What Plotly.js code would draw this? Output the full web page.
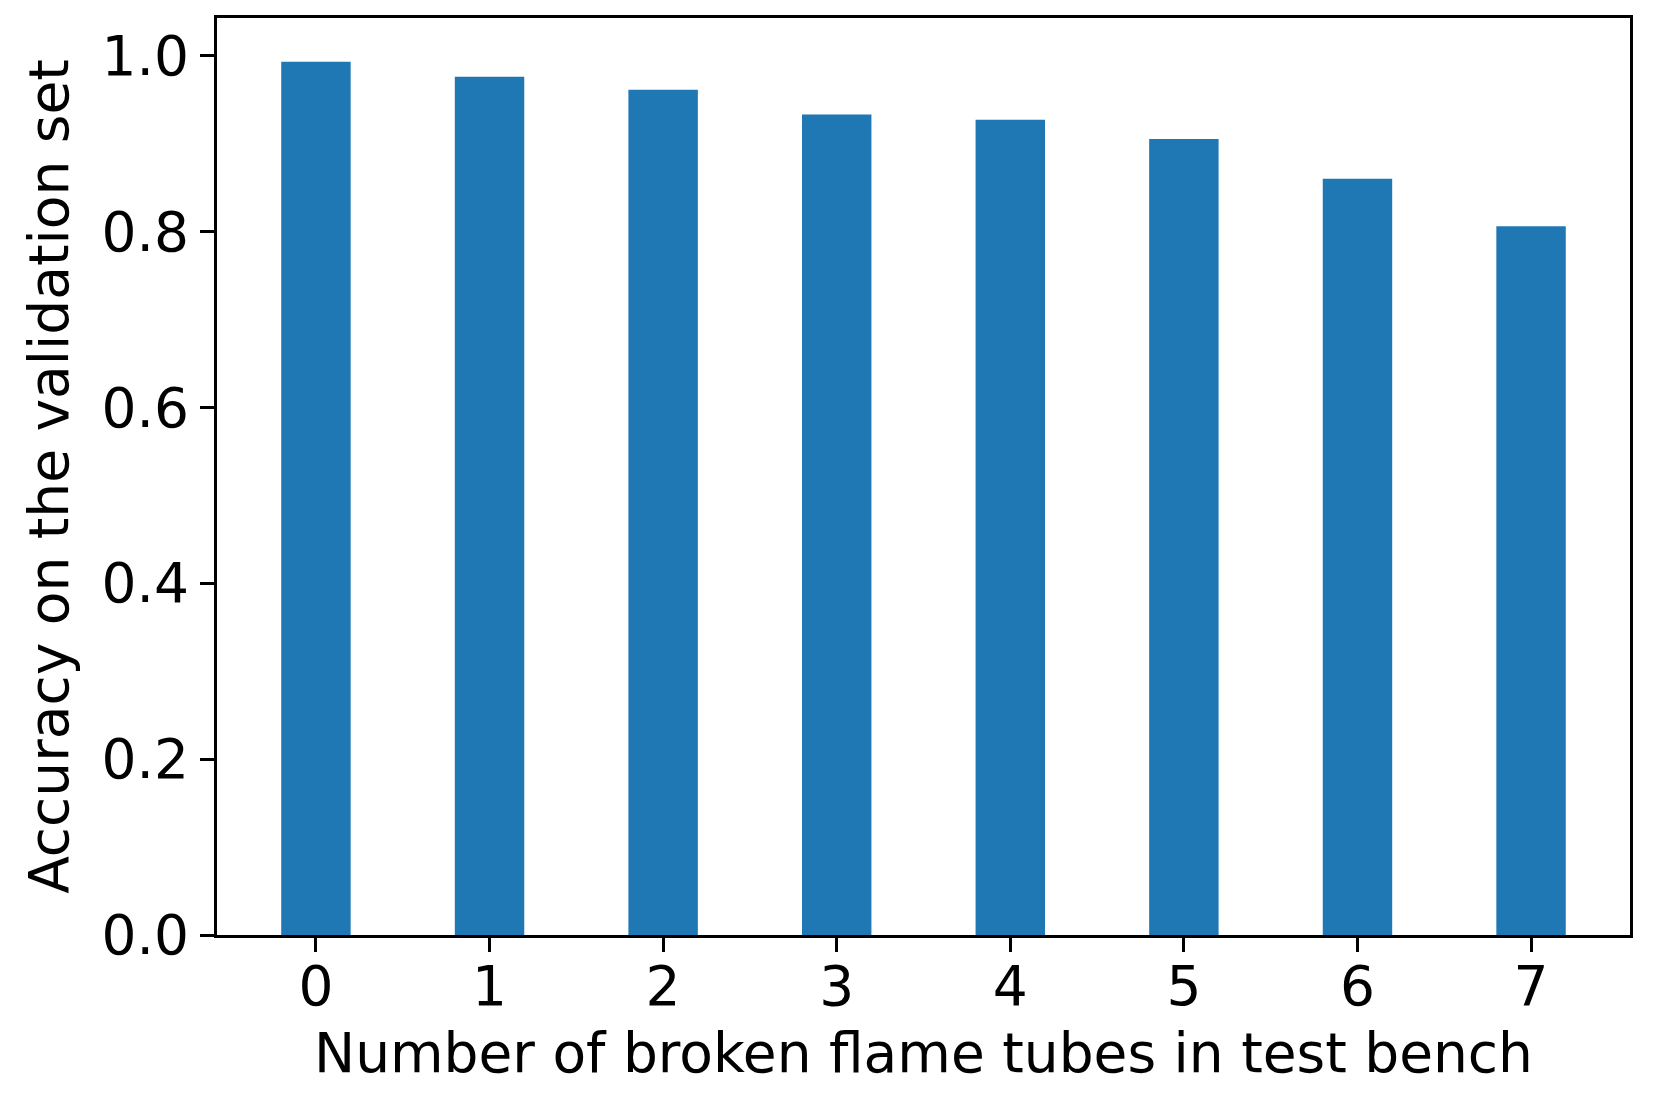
<!DOCTYPE html>
<html>
<head>
<meta charset="utf-8">
<script src="https://cdn.plot.ly/plotly-3.0.1.min.js"></script>
<style>
  html, body { margin: 0; padding: 0; background: #fff; }
  #chart { width: 1661px; height: 1105px; }
</style>
</head>
<body>
<div id="chart"></div>
<script>
// number of broken flame tubes
const brokenTubes = [0, 1, 2, 3, 4, 5, 6, 7];
// accuracy on the validation set
const accuracy = [0.993, 0.976, 0.961, 0.933, 0.927, 0.905, 0.860, 0.806];
const yTicks = [0.0, 0.2, 0.4, 0.6, 0.8, 1.0];
const yTickText = ['0.0', '0.2', '0.4', '0.6', '0.8', '1.0'];

const font = { family: 'DejaVu Sans', size: 55, color: '#000' };

const trace = {
  type: 'bar',
  x: brokenTubes,
  y: accuracy,
  width: 0.4,
  marker: { color: '#1f77b4', line: { width: 0 } },
  hoverinfo: 'x+y'
};

const axisStyle = {
  showline: true,
  linecolor: '#000',
  linewidth: 3,
  mirror: true,
  ticks: 'outside',
  ticklen: 14,
  tickwidth: 3,
  tickcolor: '#000',
  showgrid: false,
  zeroline: false,
  tickfont: font
};

const layout = {
  width: 1661,
  height: 1105,
  margin: { l: 217, r: 31, t: 18, b: 170 },
  paper_bgcolor: '#fff',
  plot_bgcolor: '#fff',
  font: font,
  showlegend: false,
  xaxis: Object.assign({}, axisStyle, {
    range: [-0.57, 7.57],
    tickvals: brokenTubes,
    ticktext: brokenTubes.map(String),
    ticklabelstandoff: -13,
    title: { text: 'Number of broken flame tubes in test bench', font: font, standoff: 17 }
  }),
  yaxis: Object.assign({}, axisStyle, {
    range: [0, 1.0427],
    tickvals: yTicks,
    ticktext: yTickText,
    title: { text: 'Accuracy on the validation set', font: font, standoff: 16 }
  })
};

Plotly.newPlot('chart', [trace], layout, { displayModeBar: false, staticPlot: true });
</script>
</body>
</html>
